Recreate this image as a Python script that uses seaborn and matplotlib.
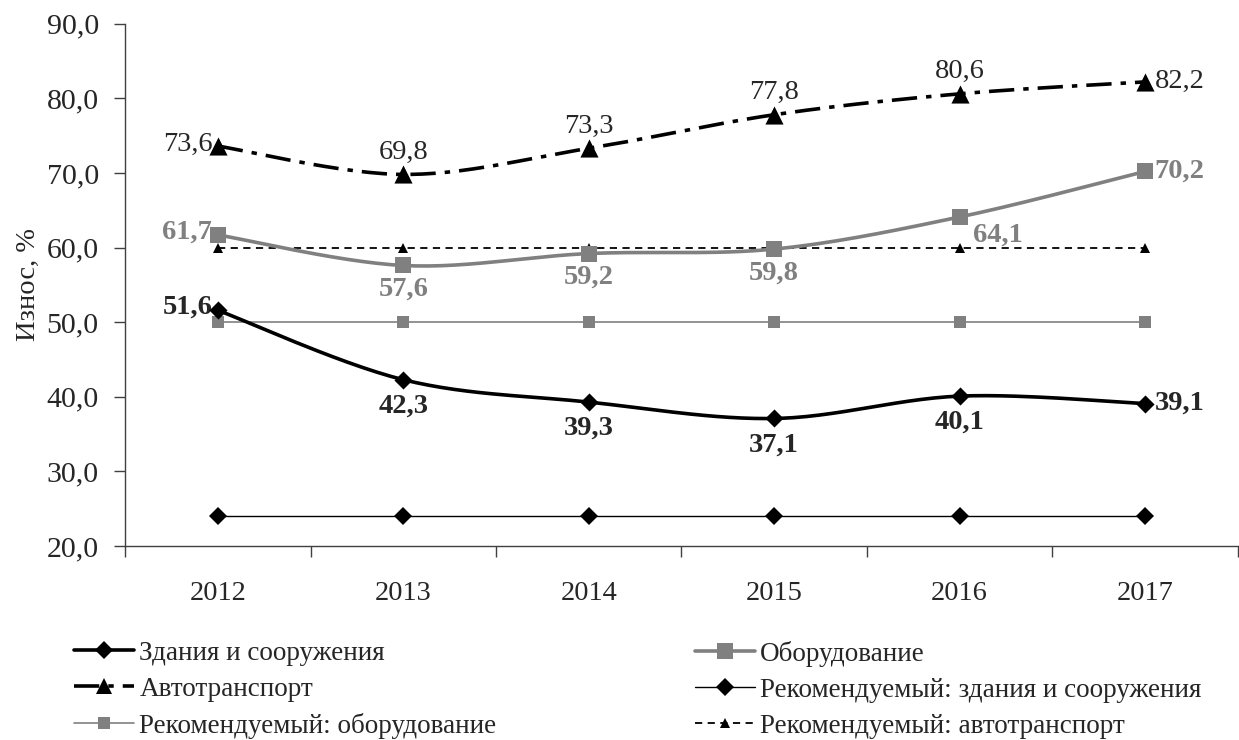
import numpy as np
import pandas as pd
import matplotlib
matplotlib.use('Agg')
import matplotlib.pyplot as plt
from matplotlib.lines import Line2D
import seaborn as sns

# данные
years = ['2012', '2013', '2014', '2015', '2016', '2017']
zdaniya = [51.6, 42.3, 39.3, 37.1, 40.1, 39.1]
oborud = [61.7, 57.6, 59.2, 59.8, 64.1, 70.2]
avto = [73.6, 69.8, 73.3, 77.8, 80.6, 82.2]
rek_zdaniya = [24.0] * 6
rek_oborud = [50.0] * 6
rek_avto = [60.0] * 6

GRAY = '#808080'

sns.set_theme(style='white')
plt.rcParams['font.family'] = ['Liberation Serif', 'DejaVu Serif']


def smooth(y, n=30):
    # сглаживание как в Excel (Catmull-Rom через кривые Безье)
    y = np.asarray(y, dtype=float)
    x = np.arange(len(y), dtype=float)
    px = np.concatenate([[x[0]], x, [x[-1]]])
    py = np.concatenate([[y[0]], y, [y[-1]]])
    xs, ys = [], []
    t = np.linspace(0, 1, n)
    for i in range(1, len(px) - 2):
        p0 = np.array([px[i], py[i]])
        p3 = np.array([px[i + 1], py[i + 1]])
        p1 = p0 + (np.array([px[i + 1], py[i + 1]]) - np.array([px[i - 1], py[i - 1]])) / 6
        p2 = p3 - (np.array([px[i + 2], py[i + 2]]) - np.array([px[i], py[i]])) / 6
        b = ((1 - t) ** 3)[:, None] * p0 + (3 * (1 - t) ** 2 * t)[:, None] * p1 \
            + (3 * (1 - t) * t ** 2)[:, None] * p2 + (t ** 3)[:, None] * p3
        xs.extend(b[:, 0])
        ys.extend(b[:, 1])
    return np.array(xs), np.array(ys)


fig = plt.figure(figsize=(12.39, 7.40), dpi=100)
ax = fig.add_axes([0.101, 0.262, 0.898, 0.706])
xi = np.arange(len(years))

AVTO_DASH = (7, 2.5, 1.5, 2.5)

# рекомендуемые уровни
sns.lineplot(x=xi, y=rek_zdaniya, ax=ax, color='black', lw=1.0, marker='D',
             markersize=9, markeredgewidth=0)
sns.lineplot(x=xi, y=rek_oborud, ax=ax, color=GRAY, lw=1.2, marker='s',
             markersize=9, markeredgewidth=0)
sns.lineplot(x=xi, y=rek_avto, ax=ax, color='black', lw=1.3, marker='^',
             markersize=7, markeredgewidth=0, linestyle=(0, (4, 3)))

# фактические значения
sx, sy = smooth(zdaniya)
ax.plot(sx, sy, color='black', lw=2.6, solid_capstyle='round')
sns.scatterplot(x=xi, y=zdaniya, ax=ax, color='black', marker='D', s=85, linewidth=0, zorder=5)

sx, sy = smooth(oborud)
ax.plot(sx, sy, color=GRAY, lw=2.6)
sns.scatterplot(x=xi, y=oborud, ax=ax, color=GRAY, marker='s', s=140, linewidth=0, zorder=5)

sx, sy = smooth(avto)
ax.plot(sx, sy, color='black', lw=2.6, dashes=AVTO_DASH)
sns.scatterplot(x=xi, y=avto, ax=ax, color='black', marker='^', s=170, linewidth=0, zorder=5)

# подписи данных
def fmt(v):
    return f'{v:.1f}'.replace('.', ',')

lab_fs = 20.5
for i, v in enumerate(zdaniya):
    if i == 0:
        ax.annotate(fmt(v), (i, v), xytext=(-4, 2), textcoords='offset points',
                    ha='right', va='center', fontsize=lab_fs, fontweight='bold')
    elif i == len(zdaniya) - 1:
        ax.annotate(fmt(v), (i, v), xytext=(7, 0), textcoords='offset points',
                    ha='left', va='center', fontsize=lab_fs, fontweight='bold')
    else:
        ax.annotate(fmt(v), (i, v), xytext=(0, -10), textcoords='offset points',
                    ha='center', va='top', fontsize=lab_fs, fontweight='bold')

for i, v in enumerate(oborud):
    if i == 0:
        ax.annotate(fmt(v), (i, v), xytext=(-4, 2), textcoords='offset points',
                    ha='right', va='center', fontsize=lab_fs, fontweight='bold', color=GRAY)
    elif i == len(oborud) - 1:
        ax.annotate(fmt(v), (i, v), xytext=(7, 0), textcoords='offset points',
                    ha='left', va='center', fontsize=lab_fs, fontweight='bold', color=GRAY)
    elif i == 4:
        ax.annotate(fmt(v), (i, v), xytext=(10, -4), textcoords='offset points',
                    ha='left', va='top', fontsize=lab_fs, fontweight='bold', color=GRAY)
    else:
        ax.annotate(fmt(v), (i, v), xytext=(0, -8), textcoords='offset points',
                    ha='center', va='top', fontsize=lab_fs, fontweight='bold', color=GRAY)

for i, v in enumerate(avto):
    if i == 0:
        ax.annotate(fmt(v), (i, v), xytext=(-4, 1), textcoords='offset points',
                    ha='right', va='center', fontsize=lab_fs)
    elif i == len(avto) - 1:
        ax.annotate(fmt(v), (i, v), xytext=(7, 0), textcoords='offset points',
                    ha='left', va='center', fontsize=lab_fs)
    else:
        ax.annotate(fmt(v), (i, v), xytext=(0, 7), textcoords='offset points',
                    ha='center', va='bottom', fontsize=lab_fs)

# оси
ax.set_xlim(-0.5, len(years) - 0.5)
ax.set_ylim(20, 90)
ax.set_yticks(np.arange(20, 91, 10))
ax.set_yticklabels([fmt(v) for v in np.arange(20, 91, 10)], fontsize=21.5)
ax.set_xticks(xi)
ax.set_xticklabels(years, fontsize=20.5)
ax.set_xticks(np.arange(-0.5, len(years)), minor=True)
ax.tick_params(axis='x', which='major', length=0, pad=25)
ax.tick_params(axis='x', which='minor', length=8, width=1, color='#404040', direction='out', bottom=True)
ax.tick_params(axis='y', length=8, width=1, color='#404040', direction='out', left=True, pad=11)
ax.set_ylabel('Износ, %', fontsize=20.5, labelpad=4)
for side in ['top', 'right']:
    ax.spines[side].set_visible(False)
for side in ['left', 'bottom']:
    ax.spines[side].set_color('#404040')
    ax.spines[side].set_linewidth(1)
ax.grid(False)

# легенда: две колонки отдельными легендами
left_handles = [
    Line2D([], [], color='black', lw=2.6, marker='D', markersize=9, markeredgewidth=0),
    Line2D([], [], color='black', lw=2.6, marker='^', markersize=12, markeredgewidth=0,
           dashes=AVTO_DASH),
    Line2D([], [], color=GRAY, lw=1.2, marker='s', markersize=9, markeredgewidth=0),
]
left_labels = ['Здания и сооружения', 'Автотранспорт', 'Рекомендуемый: оборудование']
right_handles = [
    Line2D([], [], color=GRAY, lw=2.6, marker='s', markersize=11, markeredgewidth=0),
    Line2D([], [], color='black', lw=1.0, marker='D', markersize=9, markeredgewidth=0),
    Line2D([], [], color='black', lw=1.3, marker='^', markersize=7, markeredgewidth=0,
           linestyle=(0, (4, 3))),
]
right_labels = ['Оборудование', 'Рекомендуемый: здания и сооружения', 'Рекомендуемый: автотранспорт']
leg_kw = dict(loc='upper left', frameon=False, fontsize=19.5, handlelength=2.2,
              handletextpad=0.2, labelspacing=0.4, borderaxespad=0, borderpad=0)
fig.legend(left_handles, left_labels, bbox_to_anchor=(0.06, 0.134), **leg_kw)
fig.legend(right_handles, right_labels, bbox_to_anchor=(0.561, 0.134), **leg_kw)

fig.savefig('out.png', dpi=100)
